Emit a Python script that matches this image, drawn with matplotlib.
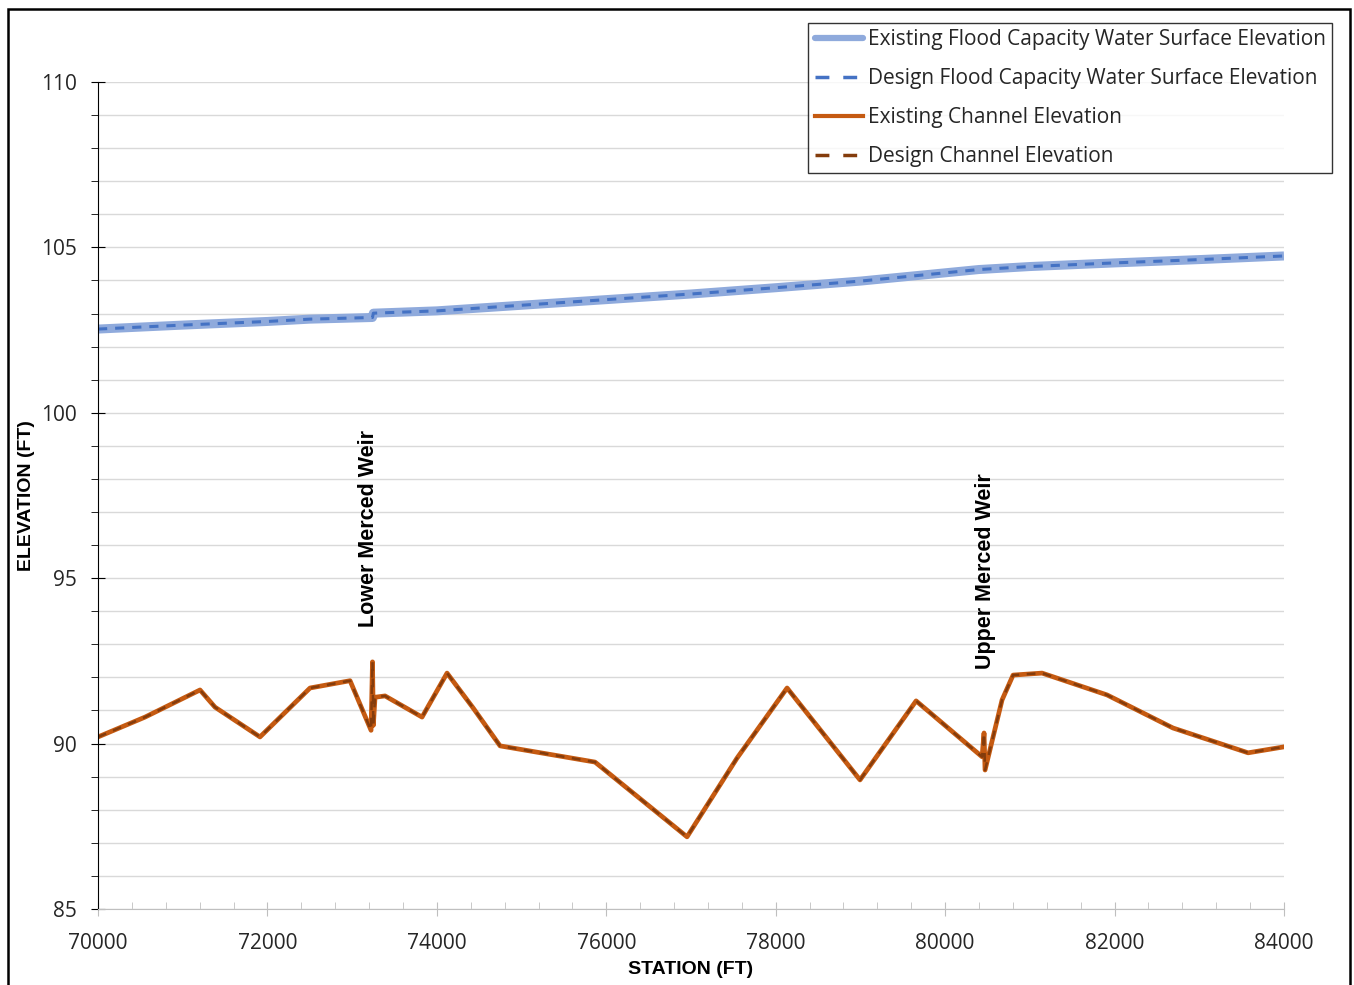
import matplotlib
matplotlib.use("Agg")
import matplotlib.pyplot as plt
from matplotlib.lines import Line2D
from matplotlib.patches import Rectangle
from matplotlib.ticker import MultipleLocator

# ============================================================
# DATA
# ============================================================
wse_station = [70000, 71000, 72000, 72500, 73240, 73250, 74000, 75000, 76000,
               77000, 78000, 79000, 79800, 80400, 81000, 82000, 83000, 84000]
wse_elev = [102.53, 102.65, 102.76, 102.83, 102.88, 103.01, 103.08, 103.25, 103.42,
            103.59, 103.78, 103.98, 104.18, 104.33, 104.42, 104.53, 104.63, 104.74]

chan_station = [70000, 70555, 71204, 71381, 71912, 72503, 72975, 73223, 73240,
                73250, 73270, 73388, 73825, 74120, 74427, 74746, 75867, 76953,
                77543, 78134, 78995, 79657, 80436, 80459, 80471, 80672, 80802,
                81144, 81911, 82690, 83576, 84000]
chan_elev = [90.2, 90.8, 91.62, 91.1, 90.2, 91.68, 91.9, 90.4, 92.47,
             90.55, 91.4, 91.44, 90.8, 92.13, 91.08, 89.93, 89.44, 87.18,
             89.56, 91.68, 88.9, 91.29, 89.6, 90.32, 89.2, 91.32, 92.07,
             92.13, 91.47, 90.47, 89.72, 89.9]

weir_names = ["Lower Merced Weir", "Upper Merced Weir"]
weir_station = [73187, 80471]
weir_label_y = [96.5, 95.2]

series_labels = ["Existing Flood Capacity Water Surface Elevation",
                 "Design Flood Capacity Water Surface Elevation",
                 "Existing Channel Elevation",
                 "Design Channel Elevation"]

BLUE_LIGHT = "#8FAADC"
BLUE = "#4472C4"
ORANGE = "#C55A11"
BROWN = "#843C0C"

plt.rcParams["font.family"] = ["Open Sans", "DejaVu Sans"]

fig = plt.figure(figsize=(13.54, 9.85), dpi=100)
ax = fig.add_axes([0.0724, 0.0772, 0.8759, 0.8396])

ax.plot(wse_station, wse_elev, color=BLUE_LIGHT, lw=6.5, solid_capstyle="butt")
ax.plot(wse_station, wse_elev, color=BLUE, lw=2.2, dashes=(3, 2.6))
ax.plot(chan_station, chan_elev, color=ORANGE, lw=3.4)
ax.plot(chan_station, chan_elev, color=BROWN, lw=1.8, dashes=(3.5, 3))

for name, xs, ys in zip(weir_names, weir_station, weir_label_y):
    ax.text(xs, ys, name, rotation=90, ha="center", va="center",
            fontsize=15.5, fontweight="bold", family="Liberation Sans")

ax.set_xlim(70000, 84000)
ax.set_ylim(85, 110)
ax.xaxis.set_major_locator(MultipleLocator(2000))
ax.xaxis.set_minor_locator(MultipleLocator(400))
ax.yaxis.set_major_locator(MultipleLocator(5))
ax.yaxis.set_minor_locator(MultipleLocator(1))

ax.grid(True, axis="y", which="both", color="#D9D9D9", lw=1)
ax.set_axisbelow(True)
for s in ["top", "right"]:
    ax.spines[s].set_visible(False)
ax.spines["bottom"].set_color("#BFBFBF")
ax.spines["left"].set_color("black")

ax.tick_params(axis="x", which="major", direction="inout", length=10,
               color="#BFBFBF", labelsize=15, labelcolor="#262626", pad=12)
ax.tick_params(axis="x", which="minor", direction="in", length=5, color="#BFBFBF")
ax.tick_params(axis="y", which="major", direction="inout", length=10,
               color="black", labelsize=15, labelcolor="#262626", pad=10)
ax.tick_params(axis="y", which="minor", direction="out", length=5, color="black")

ax.set_xlabel("STATION (FT)", fontsize=14, fontweight="bold",
              family="Liberation Sans")
ax.set_ylabel("ELEVATION (FT)", fontsize=14, fontweight="bold",
              family="Liberation Sans")
ax.xaxis.set_label_coords(0.5, -0.0738)
ax.yaxis.set_label_coords(-0.0599, 0.5)
ax.xaxis.label.set_va("center")
ax.yaxis.label.set_va("center")

# legend keys drawn like the spreadsheet ones (two long dashes)
handles = [
    Line2D([], [], color=BLUE_LIGHT, lw=4.5, solid_capstyle="round"),
    Line2D([], [], color=BLUE, lw=2.5, dashes=(4, 4)),
    Line2D([], [], color=ORANGE, lw=3),
    Line2D([], [], color=BROWN, lw=2.5, dashes=(4, 4)),
]
leg = fig.legend(handles, series_labels, loc="upper right",
                 bbox_to_anchor=(1332 / 1354, 1 - 23 / 985),
                 fontsize=15, frameon=True, fancybox=False, handlelength=2.3,
                 handletextpad=0.25, labelspacing=0.86, borderpad=0.3,
                 borderaxespad=0)
leg.get_frame().set_edgecolor("black")
leg.get_frame().set_linewidth(1.0)
for t in leg.get_texts():
    t.set_color("#262626")

# outer frame of the chart area
fig.patches.append(Rectangle((8 / 1354, -0.02), (1350 - 8) / 1354, 1 - 9 / 985 + 0.02,
                             transform=fig.transFigure, fill=False,
                             edgecolor="black", lw=1.8))

fig.savefig("out.png", dpi=100)
